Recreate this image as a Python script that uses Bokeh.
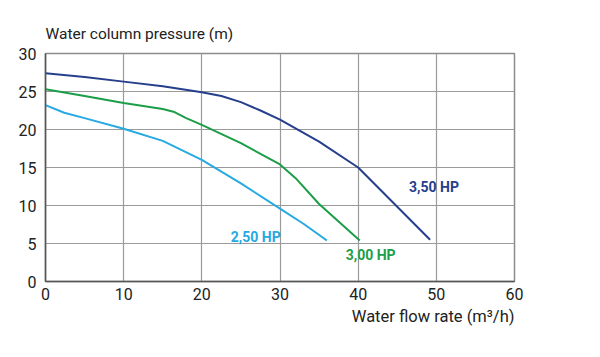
from bokeh.plotting import figure
from bokeh.models import Label, Range1d, FixedTicker, Title
from bokeh.embed import file_html
from bokeh.resources import INLINE

# Data
flow_350 = [0, 5, 10, 15, 20, 22.5, 25, 27.5, 30, 35, 40, 49.2]
head_350 = [27.4, 26.9, 26.3, 25.7, 24.9, 24.4, 23.6, 22.5, 21.3, 18.4, 15.0, 5.5]

flow_300 = [0, 5, 10, 15, 16.5, 18, 20, 25, 30, 32, 35, 40.2]
head_300 = [25.3, 24.4, 23.5, 22.7, 22.3, 21.5, 20.6, 18.2, 15.4, 13.6, 10.2, 5.4]

flow_250 = [0, 2.4, 5, 10, 15, 20, 25, 30, 33, 36]
head_250 = [23.2, 22.2, 21.5, 20.1, 18.5, 16.0, 12.9, 9.6, 7.6, 5.4]

x_ticks = [0, 10, 20, 30, 40, 50, 60]
y_ticks = [0, 5, 10, 15, 20, 25, 30]

c350 = "#263f8c"
c300 = "#1c9e48"
c250 = "#27a9e1"
FONT = "Roboto"

p = figure(width=600, height=357, output_backend="svg", toolbar_location=None,
           x_range=Range1d(0, 60), y_range=Range1d(0, 30),
           min_border_left=45, min_border_right=86, min_border_top=53, min_border_bottom=76)
p.background_fill_color = "white"
p.border_fill_color = "white"
p.outline_line_color = "#8c8c8c"
p.outline_line_width = 1.5

p.title = Title(text="Water column pressure (m)", align="left", text_font=FONT,
                text_font_size="15.5px", text_font_style="normal", text_color="#222222",
                standoff=22)

for ax in (p.xaxis[0], p.yaxis[0]):
    ax.axis_line_color = "#555555"
    ax.axis_line_width = 1.5
    ax.major_tick_line_color = None
    ax.minor_tick_line_color = None
    ax.major_label_text_font = FONT
    ax.major_label_text_font_size = "16px"
    ax.major_label_text_color = "#222222"

p.xaxis[0].ticker = FixedTicker(ticks=x_ticks)
p.yaxis[0].ticker = FixedTicker(ticks=y_ticks)
p.xaxis[0].major_label_standoff = 0
p.yaxis[0].major_label_standoff = 3

p.add_layout(Title(text="Water flow rate (m³/h)", align="right", text_font=FONT,
                   text_font_size="16.5px", text_font_style="normal", text_color="#222222",
                   offset=0, standoff=4), "below")

p.xgrid.ticker = FixedTicker(ticks=x_ticks)
p.ygrid.ticker = FixedTicker(ticks=y_ticks)
for g in (p.xgrid[0], p.ygrid[0]):
    g.grid_line_color = "#9a9a9a"
    g.grid_line_width = 1.2

p.line(flow_350, head_350, line_color=c350, line_width=2)
p.line(flow_300, head_300, line_color=c300, line_width=2)
p.line(flow_250, head_250, line_color=c250, line_width=2)

p.add_layout(Label(x=49.7, y=12.4, text="3,50 HP", text_color=c350, text_font=FONT,
                   text_font_style="bold", text_font_size="14px",
                   text_align="center", text_baseline="middle"))
p.add_layout(Label(x=41.6, y=3.55, text="3,00 HP", text_color=c300, text_font=FONT,
                   text_font_style="bold", text_font_size="14px",
                   text_align="center", text_baseline="middle"))
p.add_layout(Label(x=26.9, y=5.9, text="2,50 HP", text_color=c250, text_font=FONT,
                   text_font_style="bold", text_font_size="14px",
                   text_align="center", text_baseline="middle"))

open("out.html", "w").write(file_html(p, INLINE))
